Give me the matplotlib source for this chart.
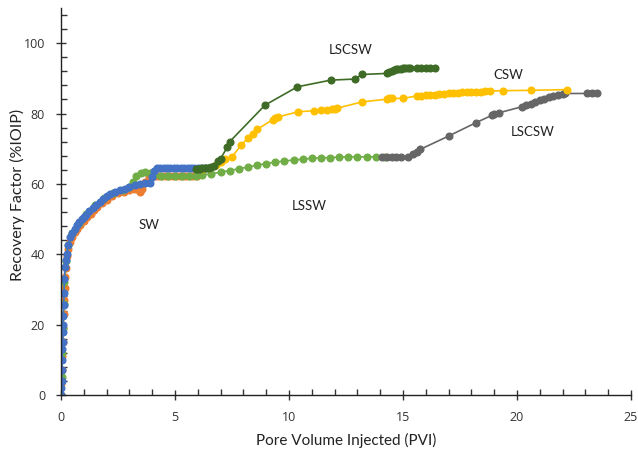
import matplotlib
matplotlib.use("Agg")
import matplotlib.pyplot as plt
from matplotlib.ticker import MultipleLocator

plt.rcParams['font.family'] = ['Open Sans', 'DejaVu Sans']

# SW run (blue)
sw_blue_x = [0, 0.02, 0.03, 0.04, 0.05, 0.06, 0.07, 0.08, 0.09, 0.1, 0.11, 0.13, 0.15, 0.17, 0.2, 0.25,
             0.3, 0.4, 0.5, 0.6, 0.7, 0.8, 0.9, 1.0, 1.1, 1.25, 1.4, 1.55, 1.7, 1.85, 2.0, 2.15, 2.35,
             2.6, 2.8, 3.0, 3.25, 3.46, 3.7, 3.9, 4.0, 4.1, 4.2, 4.35, 4.5, 4.65, 4.8, 4.95, 5.1, 5.25,
             5.4, 5.55, 5.7, 5.85, 6.0, 6.15, 6.3]
sw_blue_y = [0, 2, 4, 7, 10, 13, 15, 18, 20, 22.5, 25.5, 29, 33, 36.5, 38.5, 40,
             42.5, 44.8, 46, 47.2, 48.2, 49.1, 49.9, 50.6, 51.3, 52.2, 53.2, 54.1, 55, 55.8, 56.5, 57.2, 57.7,
             58.2, 58.6, 59.1, 59.6, 60.1, 60.3, 60.4, 62, 63.8, 64.4, 64.4, 64.4, 64.4, 64.4, 64.4, 64.4, 64.4,
             64.4, 64.4, 64.4, 64.4, 64.4, 64.4, 64.4]

# SW run (orange)
sw_orange_x = [0, 0.02, 0.04, 0.06, 0.08, 0.1, 0.12, 0.14, 0.16, 0.18, 0.2, 0.25, 0.3, 0.4, 0.5, 0.6, 0.7,
               0.85, 1.0, 1.15, 1.3, 1.45, 1.6, 1.8, 2.0, 2.25, 2.5, 2.75, 3.0, 3.2, 3.35, 3.45, 3.55, 3.7,
               3.85, 4.0, 4.15, 4.3, 4.45, 4.6, 4.75, 4.9, 5.05, 5.2, 5.35, 5.5, 5.65, 5.8, 5.95]
sw_orange_y = [0, 3, 7, 11, 15, 19, 23, 27, 30.5, 33.5, 36, 39.5, 41.5, 43.5, 45, 46.2, 47.2,
               48.4, 49.5, 50.5, 51.5, 52.5, 53.5, 54.5, 55.5, 56.5, 57.3, 57.8, 58.3, 58.5, 58.6, 57.8, 58.5, 60.5,
               62, 62.2, 62.2, 62.2, 62.2, 62.2, 62.2, 62.2, 62.2, 62.2, 62.2, 62.2, 62.2, 62.2, 62.2]

# LSSW (light green)
lssw_x = [0, 0.03, 0.06, 0.09, 0.12, 0.15, 0.2, 0.3, 0.5, 0.8, 1.1, 1.5, 1.9, 2.3, 2.7, 3.0, 3.15, 3.3,
          3.5, 3.7, 3.9, 4.1, 4.4, 4.7, 5.0, 5.3, 5.6, 5.9, 6.2, 6.6, 7.0, 7.4, 7.8, 8.2, 8.6, 9.0, 9.4,
          9.8, 10.2, 10.6, 11.0, 11.4, 11.8, 12.2, 12.6, 13.0, 13.4, 13.8, 14.2]
lssw_y = [0, 5, 12, 19, 26, 32, 38, 42.5, 46, 49, 51.5, 54, 56, 57.5, 58.3, 59, 60.5, 62.3,
          63, 63.4, 63.2, 62.6, 62.3, 62.3, 62.3, 62.3, 62.3, 62.3, 62.5, 62.9, 63.3, 63.8, 64.3, 64.8, 65.3, 65.8, 66.2,
          66.5, 66.8, 67.0, 67.3, 67.4, 67.5, 67.6, 67.7, 67.7, 67.7, 67.7, 67.7]

# LSCSW after LSSW (gray)
lscsw2_x = [14.1, 14.3, 14.5, 14.7, 14.9, 15.2, 15.45, 15.6, 15.75, 17.0, 18.2, 18.9, 19.0, 19.2, 20.2,
            20.4, 20.6, 20.8, 21.0, 21.2, 21.4, 21.6, 21.8, 22.0, 22.1, 23.05, 23.3, 23.5]
lscsw2_y = [67.7, 67.7, 67.7, 67.7, 67.7, 67.7, 68.5, 69.2, 69.8, 73.6, 77.4, 79.5, 79.8, 80.2, 81.9,
            82.4, 82.8, 83.3, 83.8, 84.2, 84.6, 85.0, 85.3, 85.5, 85.7, 85.7, 85.7, 85.7]

# CSW (yellow)
csw_x = [6.2, 6.5, 6.8, 7.0, 7.2, 7.5, 7.9, 8.2, 8.4, 8.6, 9.3, 9.4, 9.5, 10.4, 11.1, 11.4, 11.65,
         11.9, 12.0, 12.1, 13.2, 14.3, 14.4, 14.5, 15.0, 15.6, 15.8, 16.0, 16.2, 16.4, 16.6, 16.8,
         17.0, 17.2, 17.4, 17.6, 17.8, 18.0, 18.2, 18.4, 18.6, 18.8, 19.4, 20.6, 22.2]
csw_y = [64.2, 64.5, 65.3, 66.3, 67.0, 67.7, 71.0, 73.0, 74.2, 75.5, 78.3, 78.7, 79.0, 80.5, 80.8, 81.0, 81.1,
         81.3, 81.4, 81.5, 83.3, 84.1, 84.3, 84.3, 84.3, 85.0, 85.1, 85.2, 85.3, 85.4, 85.5, 85.6,
         85.7, 85.8, 85.9, 86.0, 86.0, 86.1, 86.2, 86.2, 86.3, 86.4, 86.5, 86.6, 86.8]

# LSCSW (dark green)
lscsw1_x = [5.9, 6.0, 6.1, 6.2, 6.3, 6.4, 6.5, 6.6, 6.7, 6.9, 7.0, 7.3, 7.4, 8.95, 10.37, 11.83, 12.9,
            13.2, 14.3, 14.4, 14.5, 14.6, 14.7, 14.8, 14.9, 15.0, 15.1, 15.2, 15.3, 15.6, 15.8, 16.0,
            16.2, 16.4]
lscsw1_y = [64.2, 64.3, 64.3, 64.4, 64.4, 64.4, 64.5, 64.8, 65.2, 66.5, 67.2, 70.5, 72.0, 82.4, 87.6, 89.5, 89.8,
            91.1, 91.4, 91.8, 92.2, 92.4, 92.6, 92.7, 92.8, 92.9, 93.0, 93.0, 93.0, 93.0, 93.0, 93.0,
            93.0, 93.0]

labels = ["LSCSW", "CSW", "LSCSW", "LSSW", "SW"]
label_x = [12.7, 19.6, 20.7, 10.9, 3.86]
label_y = [98.0, 91.0, 74.7, 53.7, 48.3]

fig = plt.figure(figsize=(6.38, 4.59), dpi=100)
ax = fig.add_axes([0.0956, 0.1394, 0.8934, 0.8432])

ms = 4.8
lw = 1.2
ax.plot(sw_orange_x, sw_orange_y, '-o', color='#ED7D31', ms=ms, lw=lw)
ax.plot(lssw_x, lssw_y, '-o', color='#70AD47', ms=ms, lw=lw)
ax.plot(sw_blue_x, sw_blue_y, '-o', color='#4472C4', ms=ms, lw=lw)
ax.plot(lscsw2_x, lscsw2_y, '-o', color='#666666', ms=ms, lw=lw)
ax.plot(csw_x, csw_y, '-o', color='#FFC000', ms=ms, lw=lw)
ax.plot(lscsw1_x, lscsw1_y, '-o', color='#3E6B26', ms=ms, lw=lw)

for t, x, y in zip(labels, label_x, label_y):
    ax.text(x, y, t, ha='center', va='center', fontsize=9.5, color='#222222',
            family=['Lato', 'DejaVu Sans'])

ax.set_xlim(0, 25)
ax.set_ylim(0, 110)
ax.xaxis.set_major_locator(MultipleLocator(5))
ax.xaxis.set_minor_locator(MultipleLocator(1))
ax.yaxis.set_minor_locator(MultipleLocator(4))
ax.set_yticks([0, 20, 40, 60, 80, 100])
ax.tick_params(which='major', direction='inout', length=7, width=1, labelsize=9, colors='#333333', pad=8)
ax.tick_params(which='minor', direction='in', length=4, width=1, color='#333333')
ax.spines['top'].set_visible(False)
ax.spines['right'].set_visible(False)
for s in ['left', 'bottom']:
    ax.spines[s].set_color('#222222')
    ax.spines[s].set_linewidth(1.0)

ax.set_xlabel('Pore Volume Injected (PVI)', fontsize=11, color='#222222',
              family=['Lato', 'DejaVu Sans'])
ax.set_ylabel('Recovery Factor (%IOIP)', fontsize=11.5, color='#222222',
              family=['Lato', 'DejaVu Sans'])
ax.xaxis.set_label_coords(0.5, -0.097)
ax.yaxis.set_label_coords(-0.064, 0.517)

fig.savefig('out.png', dpi=100)
